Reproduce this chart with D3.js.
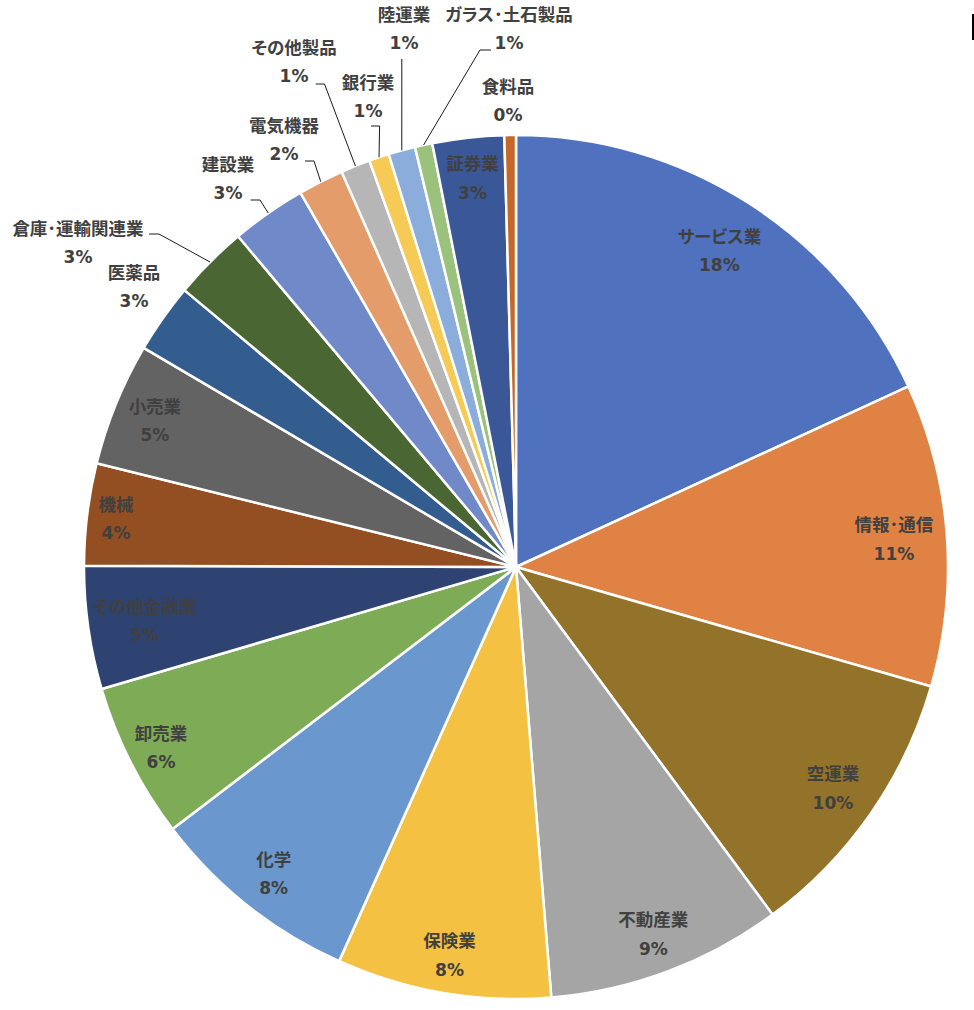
<!DOCTYPE html>
<html><head><meta charset="utf-8">
<script src="https://cdn.jsdelivr.net/npm/d3@7"></script>
<style>
html,body{margin:0;padding:0;background:#fff;}
.nm{font-family:'Noto Sans CJK JP',sans-serif;font-weight:700;font-size:17.5px;fill:#404040;font-feature-settings:"palt";}
.pc{font-family:'DejaVu Sans',sans-serif;font-weight:700;font-size:17px;fill:#404040;}
</style></head>
<body>
<svg id="c" width="974" height="1010"></svg>
<script>
const categories = ["サービス業","情報･通信","空運業","不動産業","保険業","化学","卸売業","その他金融業","機械","小売業","医薬品","倉庫･運輸関連業","建設業","電気機器","その他製品","銀行業","陸運業","ガラス･土石製品","証券業","食料品"];
const values = [18.1,11.3,10.4,8.8,8.0,7.9,5.8,4.6,3.8,4.6,2.6,2.8,2.8,1.7,1.1,0.75,1.0,0.65,2.67,0.43];
const colors = ["#5071BE","#DF8244","#93732A","#A5A5A5","#F4C142","#6A98CE","#7EAB55","#2E4372","#934E22","#636363","#345D8F","#4A6633","#7089C9","#E49C6A","#B6B6B6","#F6CB55","#8BADDB","#9AC27C","#3A5798","#C5662B"];

// layout (not data): inside label radius per slice
const insideR = {"サービス業":377,"情報･通信":379,"空運業":386,"不動産業":391,"保険業":393,"化学":390,"卸売業":398,"その他金融業":375,"機械":403,"小売業":390,"証券業":392};
// layout (not data): outside labels, name-line centre and leader start/elbow
const outside = {
  "医薬品":        {x:134, y:271},
  "倉庫･運輸関連業": {x:78,  y:227, lead:[[149,234],[159,234]]},
  "建設業":        {x:228, y:163, lead:[[250.7,200],[260,200]]},
  "電気機器":      {x:284, y:124, lead:[[305,161],[314,161]]},
  "その他製品":    {x:294, y:46,  lead:[[315.7,84],[324.5,84]]},
  "銀行業":        {x:368, y:81,  lead:[[371,126],[379.6,126]]},
  "陸運業":        {x:404, y:13,  lead:[[401.8,59]]},
  "ガラス･土石製品": {x:509, y:13,  lead:[[491,50],[480,50]]},
  "食料品":        {x:508, y:85}
};

const cx = 516, cy = 567, R = 432;
const svg = d3.select("#c");
const g = svg.append("g").attr("transform",`translate(${cx},${cy})`);
const total = d3.sum(values);
const data = categories.map((c,i)=>({cat:c, v:values[i], col:colors[i]}));
const pie = d3.pie().sort(null).value(d=>d.v).startAngle(0).endAngle(2*Math.PI);
const arcs = pie(data);
const arc = d3.arc().innerRadius(0).outerRadius(R);
const edgeArc = d3.arc().innerRadius(R).outerRadius(R);

g.selectAll("path.s").data(arcs).enter().append("path")
  .attr("class","s").attr("d",arc).attr("fill",d=>d.data.col)
  .attr("stroke","#fff").attr("stroke-width",2.5).attr("stroke-linejoin","round");

const pct = d => Math.round(d.data.v/total*100) + "%";

arcs.forEach(d=>{
  const o = outside[d.data.cat];
  let x, y;
  if (o) { x = o.x - cx; y = o.y - cy; }
  else {
    const r = insideR[d.data.cat] || 390;
    const c = d3.arc().innerRadius(r).outerRadius(r).centroid(d);
    x = c[0]; y = c[1] - 14.5;
  }
  g.append("text").attr("class","nm").attr("x",x).attr("y",y)
    .attr("text-anchor","middle").attr("dominant-baseline","central").text(d.data.cat);
  g.append("text").attr("class","pc").attr("x",x).attr("y",y+30)
    .attr("text-anchor","middle").attr("dominant-baseline","central").text(pct(d));
  if (o && o.lead) {
    const e = edgeArc.centroid(d);
    const pts = o.lead.map(p=>[p[0]-cx,p[1]-cy]).concat([e]);
    g.append("path").attr("d", d3.line()(pts)).attr("fill","none")
      .attr("stroke","#1a1a1a").attr("stroke-width",1);
  }
});

svg.append("rect").attr("x",972).attr("y",14).attr("width",2).attr("height",26).attr("fill","#000");
</script>
</body></html>
